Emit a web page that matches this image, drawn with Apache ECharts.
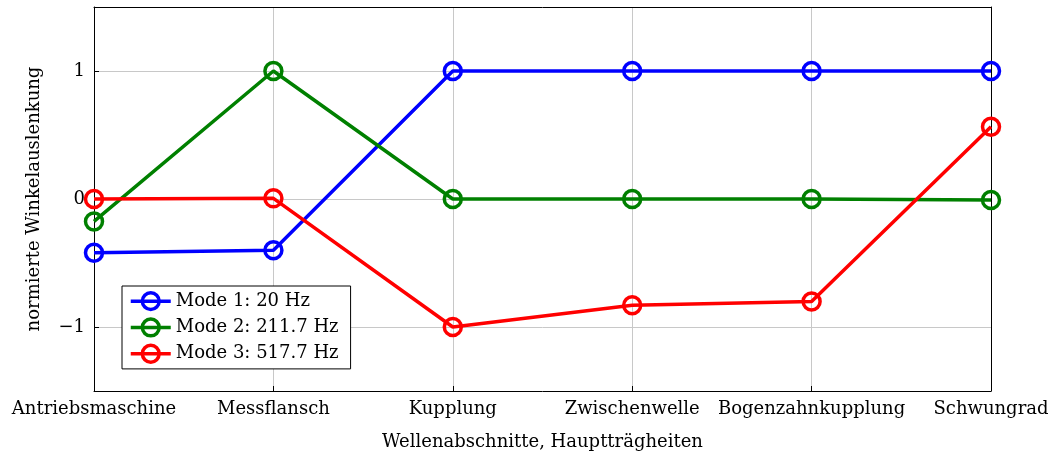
<!DOCTYPE html>
<html><head><meta charset="utf-8">
<script src="https://cdn.jsdelivr.net/npm/echarts@6/dist/echarts.min.js"></script>
<style>html,body{margin:0;padding:0;background:#fff}#c{width:1054px;height:457px}</style>
</head><body><div id="c"></div>
<script>
const categories = ['Antriebsmaschine','Messflansch','Kupplung','Zwischenwelle','Bogenzahnkupplung','Schwungrad'];
const mode1 = [-0.42, -0.40, 1.0, 1.0, 1.0, 1.0];
const mode2 = [-0.175, 1.0, 0.0, 0.0, 0.0, -0.008];
const mode3 = [0.0, 0.005, -1.0, -0.83, -0.80, 0.565];
const seriesNames = ['Mode 1: 20 Hz','Mode 2: 211.7 Hz','Mode 3: 517.7 Hz'];
const colors = ['#0000ff','#008000','#ff0000'];
const yTicks = [-1, 0, 1];
const font = '"DejaVu Serif", "Liberation Serif", serif';
const fs = 18;

const chart = echarts.init(document.getElementById('c'), null, {renderer:'canvas'});
const mk = (name, data, color) => ({
  name, type:'line', data, symbol:'circle', symbolSize:17,
  lineStyle:{color, width:3.5}, itemStyle:{color:'rgba(0,0,0,0)', borderColor:color, borderWidth:3.5},
  emphasis:{disabled:true}, animation:false, z:3
});
const blackLine = {show:true, onZero:false, lineStyle:{color:'#000', width:1}};
chart.setOption({
  animation:false,
  textStyle:{fontFamily:font},
  grid:{left:94, right:63, top:7, bottom:66, show:false},
  legend:{
    orient:'vertical', left:122, top:286, data:seriesNames,
    backgroundColor:'#fff', borderColor:'#000', borderWidth:1, borderRadius:0,
    padding:[5,12,5,7], itemGap:6, itemWidth:40, itemHeight:21,
    lineStyle:{width:3.5}, itemStyle:{borderWidth:3.5},
    textStyle:{fontFamily:font, fontSize:fs, color:'#000'}, selectedMode:false
  },
  xAxis:[{
    type:'category', data:categories, boundaryGap:false,
    name:'Wellenabschnitte, Hauptträgheiten', nameLocation:'middle', nameGap:42,
    nameTextStyle:{fontFamily:font, fontSize:fs, color:'#000'},
    axisLine:blackLine, axisTick:{show:true, inside:true, length:5, lineStyle:{color:'#000'}},
    axisLabel:{fontFamily:font, fontSize:fs, color:'#000', margin:9, interval:0},
    splitLine:{show:true, lineStyle:{color:'#c8c8c8', width:1}}
  },{
    type:'category', data:categories, boundaryGap:false, position:'top',
    axisLine:blackLine, axisTick:{show:false}, axisLabel:{show:false}, splitLine:{show:false}
  }],
  yAxis:[{
    type:'value', min:-1.5, max:1.5,
    name:'normierte Winkelauslenkung', nameLocation:'middle', nameGap:51, nameRotate:90,
    nameTextStyle:{fontFamily:font, fontSize:fs, color:'#000'},
    axisLine:blackLine,
    axisTick:{show:true, inside:true, length:5, customValues:yTicks, lineStyle:{color:'#000'}},
    axisLabel:{fontFamily:font, fontSize:fs, color:'#000', margin:9, customValues:yTicks,
      formatter:v => v < 0 ? '\u2212' + Math.abs(v) : String(v)},
    splitLine:{show:true, lineStyle:{color:'#c8c8c8', width:1}}
  },{
    type:'value', min:-1.5, max:1.5, position:'right',
    axisLine:blackLine, axisTick:{show:false}, axisLabel:{show:false}, splitLine:{show:false}
  }],
  series:[mk(seriesNames[0], mode1, colors[0]), mk(seriesNames[1], mode2, colors[1]), mk(seriesNames[2], mode3, colors[2])]
});
</script></body></html>
